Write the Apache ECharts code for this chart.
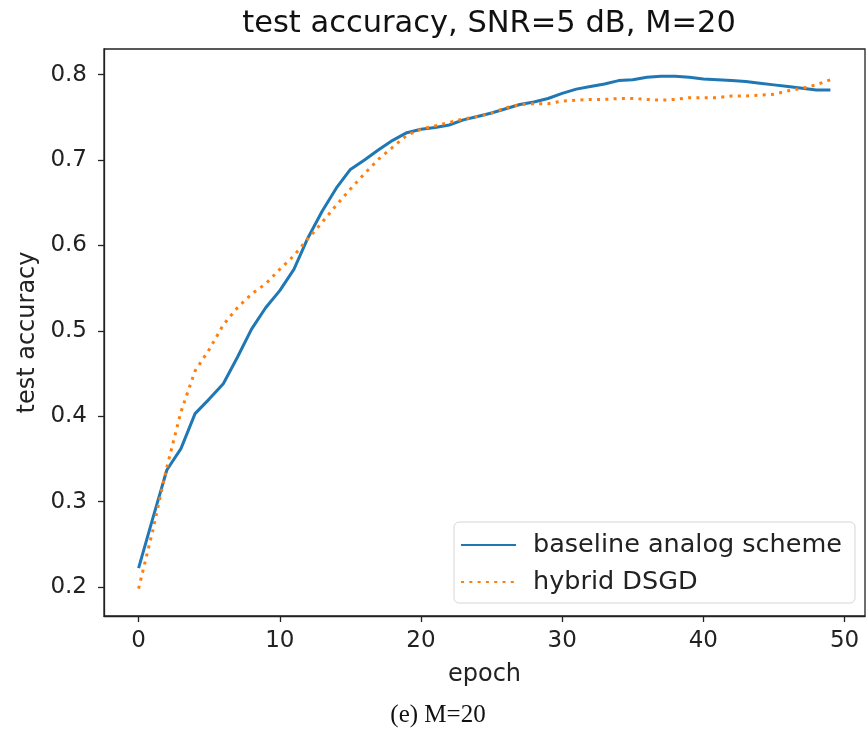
<!DOCTYPE html>
<html>
<head>
<meta charset="utf-8">
<script src="https://cdn.jsdelivr.net/npm/echarts@6/dist/echarts.min.js"></script>
<style>
  html, body { margin: 0; padding: 0; background: #fff; }
  #chart { width: 866px; height: 740px; }
</style>
</head>
<body>
<div id="chart"></div>
<script>
// data
var epochs = [0, 1, 2, 3, 4, 5, 6, 7, 8, 9, 10, 11, 12, 13, 14, 15, 16, 17, 18, 19,
  20, 21, 22, 23, 24, 25, 26, 27, 28, 29, 30, 31, 32, 33, 34, 35, 36, 37, 38, 39,
  40, 41, 42, 43, 44, 45, 46, 47, 48, 49];
var baseline = [0.222, 0.280, 0.337, 0.362, 0.403, 0.420, 0.438, 0.469, 0.502, 0.527,
  0.547, 0.572, 0.609, 0.640, 0.667, 0.689, 0.700, 0.712, 0.723, 0.732,
  0.736, 0.738, 0.741, 0.747, 0.751, 0.755, 0.760, 0.765, 0.768, 0.772,
  0.778, 0.783, 0.786, 0.789, 0.793, 0.794, 0.797, 0.798, 0.798, 0.797,
  0.795, 0.794, 0.793, 0.792, 0.790, 0.788, 0.786, 0.784, 0.782, 0.782];
var hybrid = [0.198, 0.266, 0.340, 0.405, 0.453, 0.478, 0.507, 0.527, 0.543, 0.555,
  0.572, 0.588, 0.608, 0.627, 0.647, 0.666, 0.684, 0.701, 0.715, 0.729,
  0.736, 0.740, 0.744, 0.748, 0.751, 0.755, 0.761, 0.765, 0.766, 0.766,
  0.769, 0.770, 0.771, 0.771, 0.772, 0.772, 0.771, 0.770, 0.771, 0.773,
  0.773, 0.773, 0.775, 0.775, 0.776, 0.777, 0.781, 0.784, 0.788, 0.794];
var xTicks = [0, 10, 20, 30, 40, 50];
var yTicks = [0.2, 0.3, 0.4, 0.5, 0.6, 0.7, 0.8];
var names = ['baseline analog scheme', 'hybrid DSGD'];

function pairs(ys) {
  var out = [];
  for (var i = 0; i < epochs.length; i++) out.push([epochs[i], ys[i]]);
  return out;
}

var font = 'DejaVu Sans';
var chart = echarts.init(document.getElementById('chart'));

var option = {
  animation: false,
  backgroundColor: '#fff',
  title: [
    {
      text: 'test accuracy, SNR=5 dB, M=20',
      left: 484, top: 4, textAlign: 'center',
      textStyle: { fontFamily: font, fontSize: 30.5, fontWeight: 'normal', color: '#111' }
    },
    {
      text: '(e) M=20',
      left: 433, top: 698, textAlign: 'center',
      textStyle: { fontFamily: 'Liberation Serif', fontSize: 25, fontWeight: 'normal', color: '#111' }
    }
  ],
  grid: {
    left: 104, right: 1, top: 49, bottom: 124,
    show: true, borderColor: '#222', borderWidth: 1.3, backgroundColor: 'transparent'
  },
  legend: {
    orient: 'vertical',
    right: 11, bottom: 137,
    data: names,
    itemWidth: 55, itemHeight: 14, itemGap: 11,
    padding: [10, 13, 8, 6],
    itemStyle: { opacity: 0 },
    borderColor: '#d6d6d6', borderWidth: 1, borderRadius: 5,
    backgroundColor: 'rgba(255,255,255,0.8)',
    textStyle: { fontFamily: font, fontSize: 25.5, color: '#222', padding: [0, 0, 0, 12] }
  },
  xAxis: {
    type: 'value',
    min: -2.45, max: 51.45,
    name: 'epoch', nameLocation: 'middle', nameGap: 47,
    nameTextStyle: { fontFamily: font, fontSize: 24, color: '#222' },
    axisLine: { show: true, onZero: false, lineStyle: { color: '#222', width: 1.3 } },
    axisTick: { show: true, inside: false, length: 6, customValues: xTicks, lineStyle: { color: '#222', width: 1.3 } },
    axisLabel: { customValues: xTicks, fontFamily: font, fontSize: 23, color: '#222', margin: 14 },
    splitLine: { show: false }
  },
  yAxis: {
    type: 'value',
    min: 0.166, max: 0.830,
    name: 'test accuracy', nameLocation: 'middle', nameGap: 64,
    nameTextStyle: { fontFamily: font, fontSize: 24, color: '#222' },
    axisLine: { show: true, onZero: false, lineStyle: { color: '#222', width: 1.3 } },
    axisTick: { show: true, inside: false, length: 6, customValues: yTicks, lineStyle: { color: '#222', width: 1.3 } },
    axisLabel: {
      customValues: yTicks, fontFamily: font, fontSize: 23, color: '#222', margin: 17,
      formatter: function (v) { return v.toFixed(1); }
    },
    splitLine: { show: false }
  },
  series: [
    {
      name: names[0], type: 'line', data: pairs(baseline),
      symbol: 'none', smooth: false,
      lineStyle: { color: '#1f77b4', width: 3 },
      itemStyle: { color: '#1f77b4' }
    },
    {
      name: names[1], type: 'line', data: pairs(hybrid),
      symbol: 'none', smooth: false,
      lineStyle: { color: '#ff7f0e', width: 3, type: [3, 5.3], cap: 'butt' },
      itemStyle: { color: '#ff7f0e' }
    }
  ]
};
chart.setOption(option);
</script>
</body>
</html>
